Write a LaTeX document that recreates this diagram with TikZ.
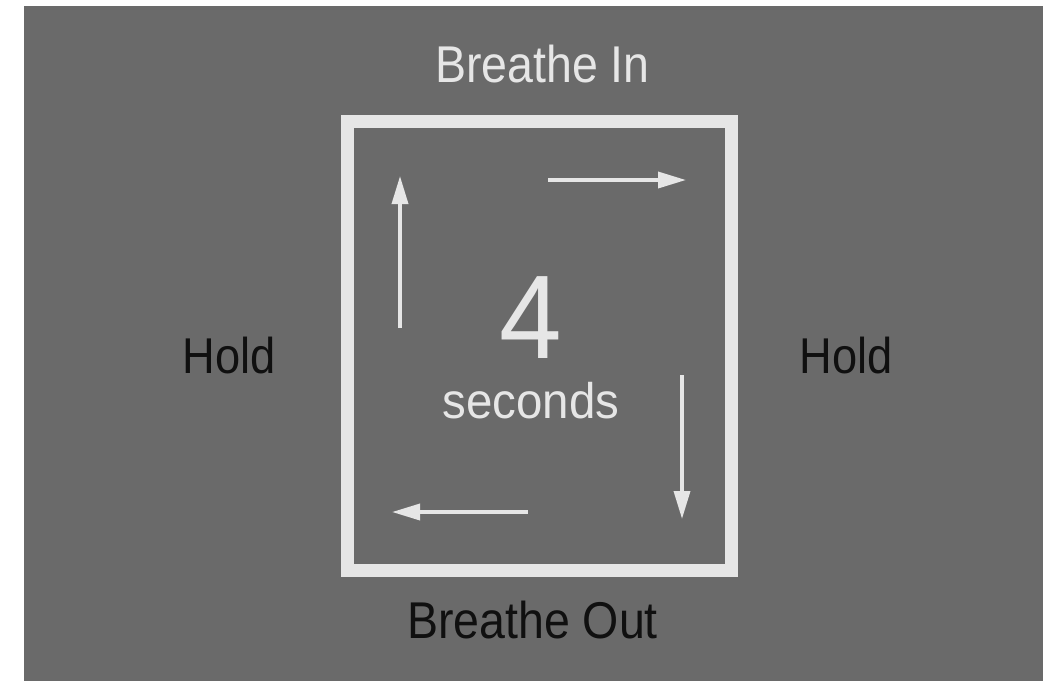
\documentclass[tikz,border=0pt]{standalone}
\usepackage{fontspec}
\setmainfont{Liberation Sans}
\usetikzlibrary{arrows.meta}
\definecolor{bggray}{HTML}{6A6A6A}
\definecolor{light}{HTML}{E6E6E6}
\definecolor{dark}{HTML}{101010}
\tikzset{
  lbl/.style={inner sep=0pt, anchor=base, xscale=0.9},
  flow/.style={draw=light, line width=3.5pt, -{Triangle[length=28pt,width=16pt]}},
}
\begin{document}
\begin{tikzpicture}[x=1pt,y=-1pt]
\useasboundingbox (0,0) rectangle (1043,681);
\fill[white] (0,0) rectangle (1043,681);
\fill[bggray] (24,6) rectangle (1043,681);
\node[draw=light, line width=13pt, minimum width=384.5pt, minimum height=449pt, inner sep=0pt] (frame) at (539.25,345.5) {};
\node[lbl, text=light, font=\fontsize{51.7}{60}\selectfont] (in) at (542.5,82) {Breathe In};
\node[lbl, text=dark, font=\fontsize{51.7}{60}\selectfont] (out) at (532.5,638) {Breathe Out};
\node[lbl, text=dark, font=\fontsize{50.3}{60}\selectfont] (holdl) at (229.5,373) {Hold};
\node[lbl, text=dark, font=\fontsize{50.3}{60}\selectfont] (holdr) at (846.5,373) {Hold};
\node[lbl, text=light, xscale=1.05, font=\fontsize{119}{130}\selectfont] (four) at (531,358) {4};
\node[lbl, text=light, xscale=1.055, font=\fontsize{50}{60}\selectfont] (sec) at (531,418) {seconds};
\coordinate (a1s) at (400,328); \coordinate (a1e) at (400,176);
\coordinate (a2s) at (548,180); \coordinate (a2e) at (686,180);
\coordinate (a3s) at (682,375); \coordinate (a3e) at (682,519);
\coordinate (a4s) at (528,512); \coordinate (a4e) at (392,512);
\draw[flow] (a1s) -- (a1e);
\draw[flow] (a2s) -- (a2e);
\draw[flow] (a3s) -- (a3e);
\draw[flow] (a4s) -- (a4e);
\end{tikzpicture}
\end{document}
